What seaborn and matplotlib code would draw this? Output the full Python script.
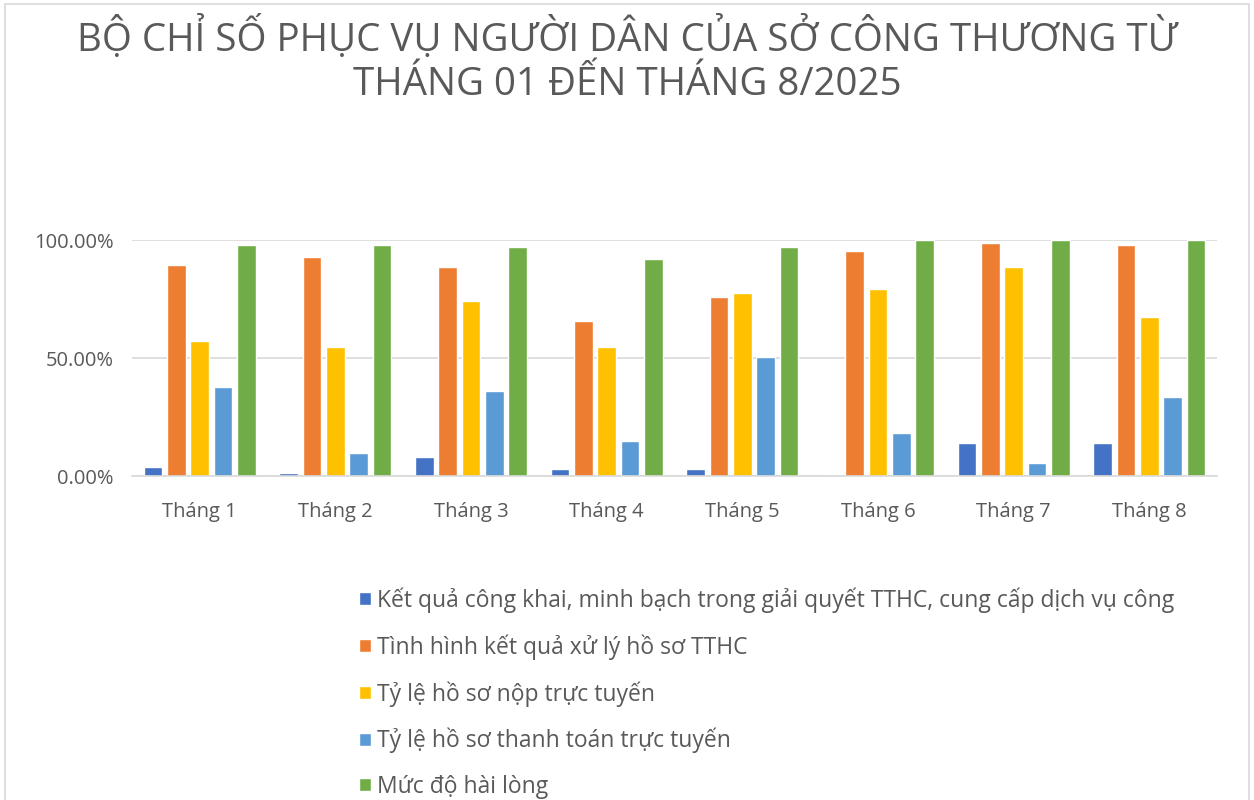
import matplotlib
matplotlib.use("Agg")
import matplotlib.pyplot as plt
import seaborn as sns
import pandas as pd
from matplotlib.ticker import PercentFormatter
from matplotlib.patches import Rectangle

months = ["Tháng 1", "Tháng 2", "Tháng 3", "Tháng 4", "Tháng 5", "Tháng 6", "Tháng 7", "Tháng 8"]
series_names = [
    "Kết quả công khai, minh bạch trong giải quyết TTHC, cung cấp dịch vụ công",
    "Tình hình kết quả xử lý hồ sơ TTHC",
    "Tỷ lệ hồ sơ nộp trực tuyến",
    "Tỷ lệ hồ sơ thanh toán trực tuyến",
    "Mức độ hài lòng",
]
cong_khai = [0.037, 0.011, 0.079, 0.028, 0.028, 0.0, 0.138, 0.138]
xu_ly = [0.894, 0.927, 0.884, 0.655, 0.757, 0.952, 0.986, 0.977]
nop_truc_tuyen = [0.571, 0.545, 0.742, 0.545, 0.774, 0.791, 0.884, 0.672]
thanh_toan = [0.376, 0.096, 0.359, 0.147, 0.503, 0.181, 0.054, 0.333]
hai_long = [0.979, 0.979, 0.970, 0.918, 0.970, 1.0, 1.0, 1.0]
colors = ["#4472C4", "#ED7D31", "#FFC000", "#5B9BD5", "#70AD47"]

all_series = [cong_khai, xu_ly, nop_truc_tuyen, thanh_toan, hai_long]
rows = []
for name, vals in zip(series_names, all_series):
    for m, v in zip(months, vals):
        rows.append({"Tháng": m, "Chỉ số": name, "Giá trị": v})
df = pd.DataFrame(rows)

sns.set_style("white")
plt.rcParams["font.family"] = ["Open Sans", "DejaVu Sans"]

fig = plt.figure(figsize=(12.54, 8.0), dpi=100)
ax = fig.add_axes([132 / 1254, 1 - 476 / 800, (1217 - 132) / 1254, (476 - 240) / 800])

sns.barplot(data=df, x="Tháng", y="Giá trị", hue="Chỉ số", order=months,
            hue_order=series_names, palette=colors, width=0.86, gap=0.2,
            saturation=1, ax=ax, legend=True)

ax.set_ylim(0, 1.0)
ax.set_yticks([0, 0.5, 1.0])
ax.yaxis.set_major_formatter(PercentFormatter(1.0, decimals=2))
ax.grid(axis="y", color="#d9d9d9", linewidth=1.2)
ax.set_axisbelow(True)
for s in ["top", "right", "left"]:
    ax.spines[s].set_visible(False)
ax.spines["bottom"].set_color("#d9d9d9")
ax.spines["bottom"].set_linewidth(1.2)
ax.tick_params(axis="both", length=0, labelsize=14.5, labelcolor="#595959")
ax.tick_params(axis="x", pad=19)
ax.tick_params(axis="y", pad=13)
ax.set_xlabel("")
ax.set_ylabel("")

handles, labels = ax.get_legend_handles_labels()
ax.get_legend().remove()
fig.legend(handles, labels, loc="upper left", bbox_to_anchor=(348 / 1254, 1 - 576 / 800),
           frameon=False, fontsize=16.5, labelcolor="#595959", handlelength=0.5,
           handleheight=0.5, handletextpad=0.25, labelspacing=0.93, borderpad=0)

fig.text(0.5, 1 - 60 / 800, "BỘ CHỈ SỐ PHỤC VỤ NGƯỜI DÂN CỦA SỞ CÔNG THƯƠNG TỪ\nTHÁNG 01 ĐẾN THÁNG 8/2025",
         ha="center", va="center", fontsize=27.7, color="#595959", linespacing=1.22)

fig.patches.append(Rectangle((5 / 1254, -0.01), 1244 / 1254, 1 - 4 / 800 + 0.01,
                             transform=fig.transFigure, fill=False, edgecolor="#d9d9d9",
                             linewidth=1.2))

fig.savefig("out.png", dpi=100, facecolor="white")
